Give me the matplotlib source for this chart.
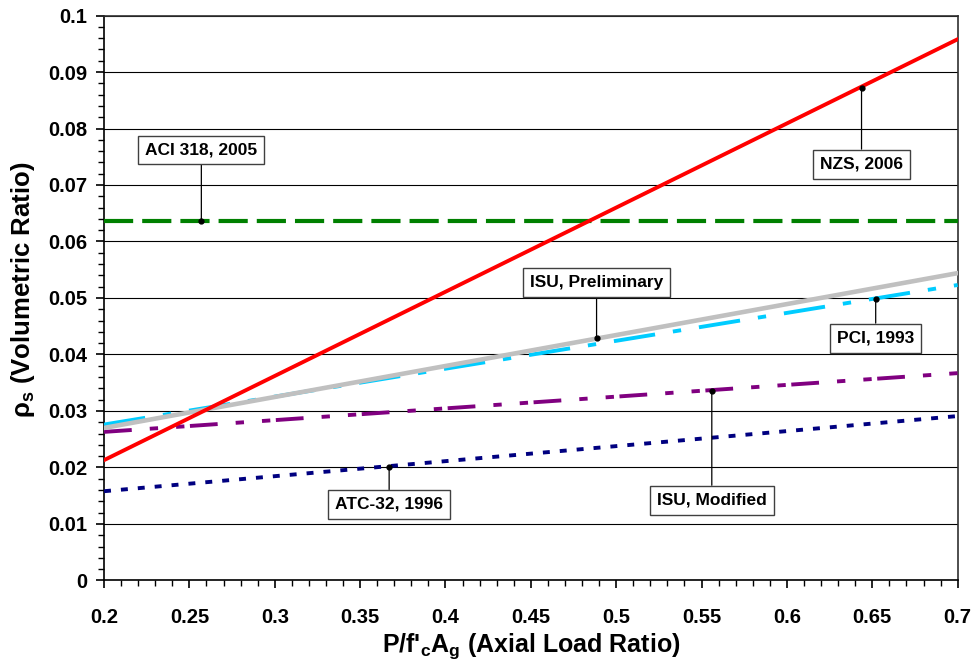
import matplotlib
matplotlib.use("Agg")
import matplotlib.pyplot as plt
from matplotlib.ticker import MultipleLocator, FuncFormatter

plt.rcParams['font.family'] = ['Liberation Sans', 'DejaVu Sans']
plt.rcParams['font.weight'] = 'bold'
plt.rcParams['mathtext.fontset'] = 'custom'
plt.rcParams['mathtext.rm'] = 'Liberation Sans:bold'
plt.rcParams['mathtext.bf'] = 'Liberation Sans:bold'
plt.rcParams['mathtext.it'] = 'Liberation Sans:bold'
plt.rcParams['lines.scale_dashes'] = False

# Data: endpoints of each design line (x = axial load ratio)
x_range = [0.2, 0.7]
nzs_2006 = [0.0213, 0.0958]
aci_318_2005 = [0.0636, 0.0636]
isu_preliminary = [0.0270, 0.0544]
pci_1993 = [0.0276, 0.0523]
isu_modified = [0.0263, 0.0367]
atc32_1996 = [0.0158, 0.0291]

# Annotations: label, point on line, box center height
labels = ["ACI 318, 2005", "NZS, 2006", "ISU, Preliminary", "PCI, 1993", "ISU, Modified", "ATC-32, 1996"]
point_x = [0.257, 0.6437, 0.4885, 0.652, 0.556, 0.367]
point_y = [0.0636, 0.0872, 0.0430, 0.0498, 0.0336, 0.0201]
box_y = [0.0762, 0.0737, 0.0527, 0.0429, 0.0142, 0.01345]

fig = plt.figure(figsize=(9.75, 6.6), dpi=100)
ax = fig.add_axes([0.1067, 0.1205, 0.8755, 0.856])

ax.plot(x_range, atc32_1996, color='#000080', lw=2.8, dashes=(5, 7.2), zorder=3)
ax.plot(x_range, isu_modified, color='#800080', lw=2.8, dashes=(20, 13, 6, 13, 6, 4), zorder=3)
ax.plot(x_range, pci_1993, color='#00CCFF', lw=2.8, dashes=(30, 13, 6, 13), zorder=3)
ax.plot(x_range, isu_preliminary, color='#C0C0C0', lw=3.3, zorder=4)
ax.plot(x_range, aci_318_2005, color='#008000', lw=3.0, dashes=(21, 6.5), zorder=3)
ax.plot(x_range, nzs_2006, color='#FF0000', lw=2.8, zorder=5)

for lab, px, py, by in zip(labels, point_x, point_y, box_y):
    ax.annotate(lab, xy=(px, py), xytext=(px, by), textcoords='data',
                ha='center', va='center', fontsize=12.5, fontweight='bold',
                bbox=dict(boxstyle='square,pad=0.4', fc='white', ec='#404040', lw=1),
                arrowprops=dict(arrowstyle='-', color='black', lw=0.9,
                                shrinkA=0, shrinkB=0),
                zorder=7)
    ax.plot([px], [py], 'o', color='black', ms=3.5, zorder=8)

ax.set_xlim(0.2, 0.7)
ax.set_ylim(0, 0.1)
ax.xaxis.set_major_locator(MultipleLocator(0.05))
ax.xaxis.set_minor_locator(MultipleLocator(0.01))
ax.yaxis.set_major_locator(MultipleLocator(0.01))
ax.yaxis.set_minor_locator(MultipleLocator(0.002))
fmt = FuncFormatter(lambda v, p: f"{round(v, 4):g}")
ax.xaxis.set_major_formatter(fmt)
ax.yaxis.set_major_formatter(fmt)

ax.grid(axis='y', which='major', color='black', lw=0.8)
ax.set_axisbelow(True)
for s in ax.spines.values():
    s.set_linewidth(1.2)
    s.set_color('black')
ax.spines['top'].set_color('#303030')
ax.spines['right'].set_color('#303030')

ax.tick_params(axis='both', which='major', direction='out', length=6, width=1.2, labelsize=14.5)
ax.tick_params(axis='both', which='minor', direction='out', length=4, width=1)
ax.tick_params(axis='x', which='major', pad=14)
ax.tick_params(axis='y', which='major', pad=6)
for t in ax.get_xticklabels() + ax.get_yticklabels():
    t.set_fontweight('bold')

ax.set_xlabel(r"P/f'$_\mathbf{c}$A$_\mathbf{g}$ (Axial Load Ratio)", fontsize=18, fontweight='bold', labelpad=3)
ax.set_ylabel(r"ρ$_\mathbf{s}$ (Volumetric Ratio)", fontsize=18.5, fontweight='bold')
ax.yaxis.set_label_coords(-0.0785, 0.515)

fig.savefig("out.png", dpi=100)
